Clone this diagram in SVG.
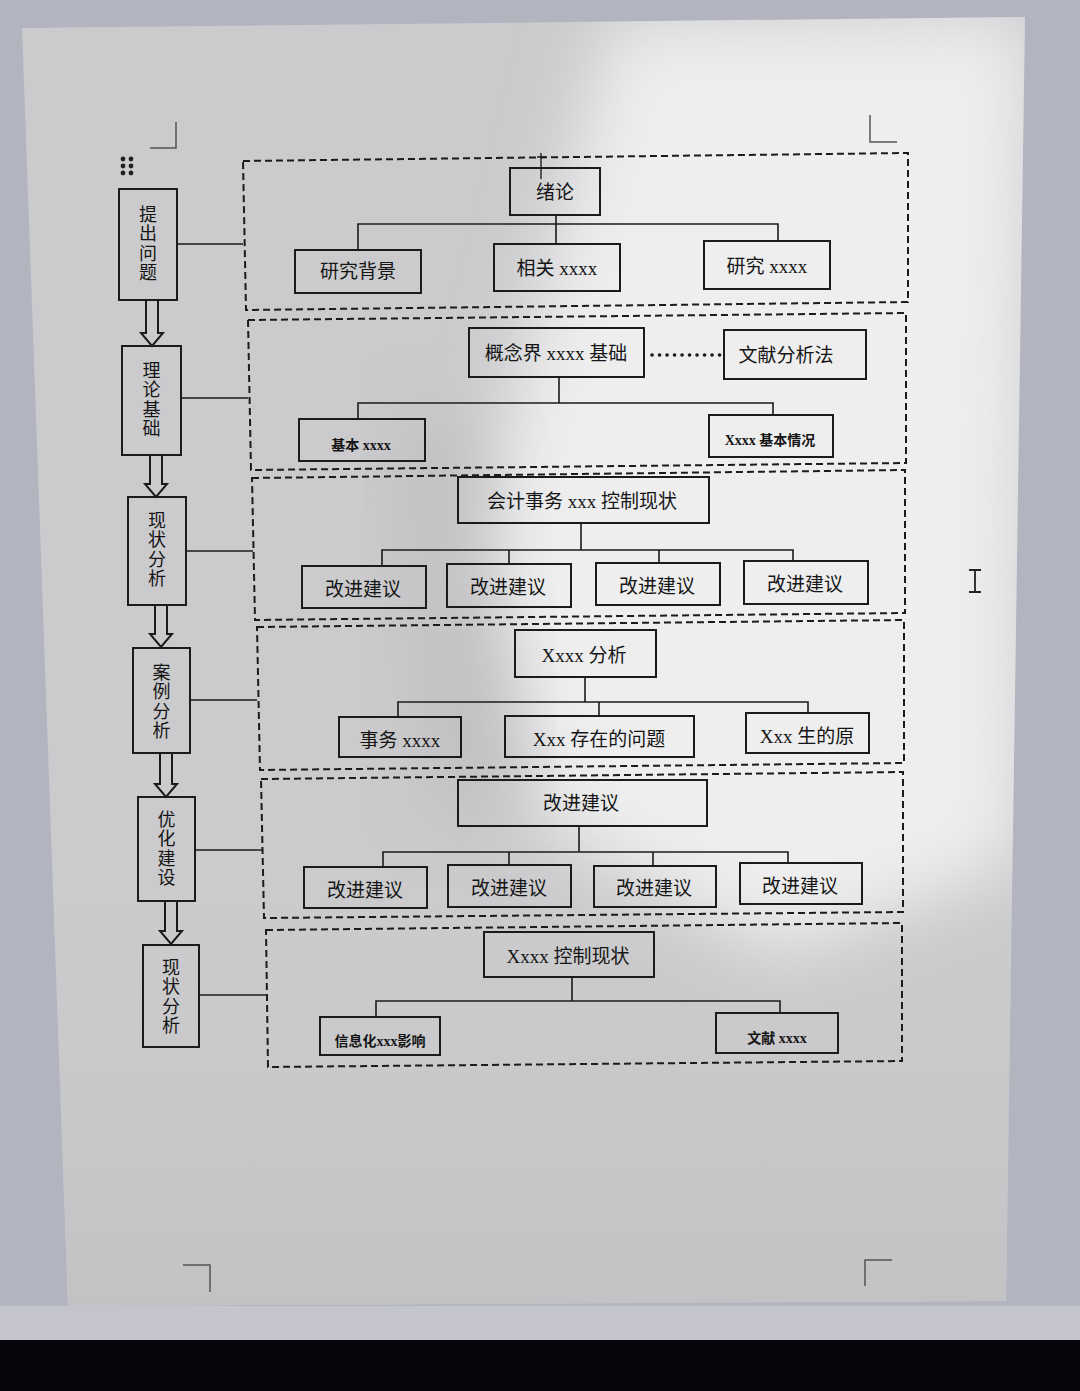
<svg xmlns="http://www.w3.org/2000/svg" width="1080" height="1391" viewBox="0 0 1080 1391">
<defs>
<style>
.box{fill:none;stroke:#1b1b1b;stroke-width:2}
.frame{fill:none;stroke:#1b1b1b;stroke-width:2;stroke-dasharray:7 4}
.ln{fill:none;stroke:#1b1b1b;stroke-width:1.6}
.mark{fill:none;stroke:#555;stroke-width:1.5}
.arrow{fill:none;stroke:#1b1b1b;stroke-width:2;stroke-linejoin:miter}
.t{font-family:"Liberation Serif","Noto Sans CJK SC",serif;font-size:19px;fill:#151515;text-anchor:middle;dominant-baseline:central}
.ts{font-size:14px;font-weight:bold}
.v{font-family:"Noto Sans CJK SC",sans-serif;font-size:18px;fill:#151515;text-anchor:middle;writing-mode:vertical-rl;letter-spacing:1.5px}
</style>
<filter id="blur" x="-30%" y="-30%" width="160%" height="160%"><feGaussianBlur stdDeviation="35"/></filter>
<linearGradient id="bot" x1="0" y1="0" x2="0" y2="1">
<stop offset="0" stop-color="#c9c9cb" stop-opacity="0"/>
<stop offset="1" stop-color="#c2c1c3" stop-opacity="1"/>
</linearGradient>
<clipPath id="pageclip"><polygon points="22,28 1025,17 1006,1301 68,1306"/></clipPath>
</defs>

<g id="background">
<rect x="0" y="0" width="1080" height="1391" fill="#b2b4c0"/>
<rect x="0" y="1306" width="1080" height="36" fill="#c3c4cc"/>
<rect x="0" y="1340" width="1080" height="51" fill="#05060c"/>
<polygon points="22,28 1025,17 1006,1301 68,1306" fill="#cbcbcd"/>
<g clip-path="url(#pageclip)">
<polygon points="610,20 1030,15 1020,860 780,960 540,820 470,560 540,300" fill="#eeeeef" filter="url(#blur)"/>
<polygon points="400,420 470,420 520,800 440,820" fill="#b9b9bb" filter="url(#blur)" opacity="0.7"/>
<rect x="0" y="900" width="1080" height="420" fill="url(#bot)"/>
</g>
</g>

<g id="page-marks">
<path class="mark" d="M150,148 H176 V122"/>
<path class="mark" d="M870,115 V142 H897"/>
<path class="mark" d="M183,1265 H210 V1292"/>
<path class="mark" d="M892,1260 H865 V1286"/>
<g fill="#222">
<circle cx="123" cy="159" r="2.4"/><circle cx="131" cy="159" r="2.4"/>
<circle cx="123" cy="166" r="2.4"/><circle cx="131" cy="166" r="2.4"/>
<circle cx="123" cy="173" r="2.4"/><circle cx="131" cy="173" r="2.4"/>
</g>
<path d="M969,570 H981 M975,570 V592 M969,592 H981" stroke="#222" stroke-width="1.8" fill="none"/>
<path d="M541,153 V179 M537,157 H546" stroke="#222" stroke-width="1.4" fill="none"/>
</g>

<g id="frames">
<polygon id="frame-1" class="frame" points="243,161 908,153 908,302 246,310"/>
<polygon id="frame-2" class="frame" points="248,320 906,313 906,463 251,470"/>
<polygon id="frame-3" class="frame" points="252,478 905,470 905,613 255,620"/>
<polygon id="frame-4" class="frame" points="257,627 904,620 904,763 260,770"/>
<polygon id="frame-5" class="frame" points="261,779 903,772 903,912 264,918"/>
<polygon id="frame-6" class="frame" points="266,930 902,923 902,1061 268,1067"/>
</g>

<g id="connectors">
<path class="ln" d="M177,244 H243"/>
<path class="ln" d="M181,398 H248"/>
<path class="ln" d="M186,551 H253"/>
<path class="ln" d="M190,700 H257"/>
<path class="ln" d="M195,850 H262"/>
<path class="ln" d="M199,995 H266"/>

<path class="ln" d="M556,215 V224 M358,250 V224 H778 V242 M556,224 V244"/>
<path class="ln" d="M559,377 V403 M358,419 V403 H773 V415"/>
<path class="ln" d="M581,523 V550 M382,566 V550 H793 V561 M509,550 V564 M659,550 V563"/>
<path class="ln" d="M585,677 V702 M398,717 V702 H808 V713 M599,702 V716"/>
<path class="ln" d="M579,826 V852 M383,867 V852 H788 V863 M509,852 V865 M653,852 V866"/>
<path class="ln" d="M572,977 V1001 M376,1017 V1001 H780 V1013"/>
<path d="M652,355 H720" stroke="#1b1b1b" stroke-width="3.6" stroke-dasharray="0.1 7.4" stroke-linecap="round" fill="none"/>

<polygon class="arrow" points="146,300 158,300 158,333 163,333 152,346 141,333 146,333"/>
<polygon class="arrow" points="150,455 162,455 162,484 167,484 156,497 145,484 150,484"/>
<polygon class="arrow" points="155,605 167,605 167,634 172,634 161,647 150,634 155,634"/>
<polygon class="arrow" points="160,753 172,753 172,784 177,784 166,797 155,784 160,784"/>
<polygon class="arrow" points="165,901 177,901 177,931 182,931 171,944 160,931 165,931"/>
</g>

<g id="left-1"><rect class="box" x="119" y="189" width="58" height="111"/><text class="v" x="148" y="244">提出问题</text></g>
<g id="left-2"><rect class="box" x="122" y="346" width="59" height="109"/><text class="v" x="151.5" y="400">理论基础</text></g>
<g id="left-3"><rect class="box" x="128" y="497" width="58" height="108"/><text class="v" x="157" y="550">现状分析</text></g>
<g id="left-4"><rect class="box" x="133" y="648" width="57" height="105"/><text class="v" x="161.5" y="702">案例分析</text></g>
<g id="left-5"><rect class="box" x="138" y="797" width="57" height="104"/><text class="v" x="166.5" y="849">优化建设</text></g>
<g id="left-6"><rect class="box" x="143" y="945" width="56" height="102"/><text class="v" x="171" y="997">现状分析</text></g>

<g id="s1-root"><rect class="box" x="510" y="168" width="90" height="47"/><text class="t" x="555" y="192">绪论</text></g>
<g id="s1-a"><rect class="box" x="295" y="250" width="126" height="43"/><text class="t" x="358" y="271">研究背景</text></g>
<g id="s1-b"><rect class="box" x="494" y="244" width="126" height="47"/><text class="t" x="557" y="268">相关 xxxx</text></g>
<g id="s1-c"><rect class="box" x="704" y="241" width="126" height="48"/><text class="t" x="767" y="266">研究 xxxx</text></g>

<g id="s2-root"><rect class="box" x="469" y="328" width="175" height="49"/><text class="t" x="556" y="353">概念界 xxxx 基础</text></g>
<g id="s2-side"><rect class="box" x="724" y="330" width="142" height="49"/><text class="t" x="786" y="355">文献分析法</text></g>
<g id="s2-a"><rect class="box" x="299" y="419" width="126" height="42"/><text class="t ts" x="361" y="445">基本 xxxx</text></g>
<g id="s2-b"><rect class="box" x="709" y="415" width="124" height="42"/><text class="t ts" x="770" y="440">Xxxx 基本情况</text></g>

<g id="s3-root"><rect class="box" x="458" y="477" width="251" height="46"/><text class="t" x="582" y="501">会计事务 xxx 控制现状</text></g>
<g id="s3-a"><rect class="box" x="302" y="566" width="124" height="42"/><text class="t" x="363" y="589">改进建议</text></g>
<g id="s3-b"><rect class="box" x="447" y="564" width="124" height="43"/><text class="t" x="508" y="587">改进建议</text></g>
<g id="s3-c"><rect class="box" x="596" y="563" width="124" height="42"/><text class="t" x="657" y="586">改进建议</text></g>
<g id="s3-d"><rect class="box" x="744" y="561" width="124" height="43"/><text class="t" x="805" y="584">改进建议</text></g>

<g id="s4-root"><rect class="box" x="515" y="630" width="141" height="47"/><text class="t" x="584" y="655">Xxxx 分析</text></g>
<g id="s4-a"><rect class="box" x="339" y="717" width="122" height="40"/><text class="t" x="400" y="740">事务 xxxx</text></g>
<g id="s4-b"><rect class="box" x="505" y="716" width="189" height="41"/><text class="t" x="599" y="739">Xxx 存在的问题</text></g>
<g id="s4-c"><rect class="box" x="746" y="713" width="123" height="40"/><text class="t" x="807" y="736">Xxx 生的原</text></g>

<g id="s5-root"><rect class="box" x="458" y="780" width="249" height="46"/><text class="t" x="581" y="803">改进建议</text></g>
<g id="s5-a"><rect class="box" x="304" y="867" width="123" height="41"/><text class="t" x="365" y="890">改进建议</text></g>
<g id="s5-b"><rect class="box" x="448" y="865" width="123" height="42"/><text class="t" x="509" y="888">改进建议</text></g>
<g id="s5-c"><rect class="box" x="594" y="866" width="122" height="41"/><text class="t" x="654" y="888">改进建议</text></g>
<g id="s5-d"><rect class="box" x="740" y="863" width="122" height="41"/><text class="t" x="800" y="886">改进建议</text></g>

<g id="s6-root"><rect class="box" x="484" y="932" width="170" height="45"/><text class="t" x="568" y="956">Xxxx 控制现状</text></g>
<g id="s6-a"><rect class="box" x="320" y="1017" width="120" height="38"/><text class="t ts" x="380" y="1041">信息化xxx影响</text></g>
<g id="s6-b"><rect class="box" x="716" y="1013" width="122" height="40"/><text class="t ts" x="777" y="1038">文献 xxxx</text></g>
</svg>
